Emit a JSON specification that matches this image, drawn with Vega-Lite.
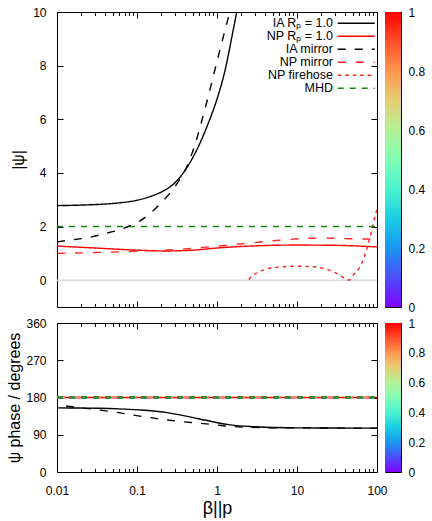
{
  "$schema": "https://vega.github.io/schema/vega-lite/v6.json",
  "padding": {"left": 6, "top": 5, "right": 0, "bottom": 0},
  "config": {
    "font": "Liberation Sans",
    "view": {"stroke": "#000", "strokeWidth": 1},
    "axis": {
      "domain": false, "grid": false, "tickColor": "#000", "tickWidth": 1,
      "labelFont": "Liberation Sans", "labelFontSize": 12, "labelColor": "#000",
      "titleFont": "Liberation Sans", "titleFontWeight": "normal", "titleColor": "#000"
    }
  },
  "datasets": {
    "psi": [
      {"b": 0.01, "v": 2.78, "s": "IA Rₚ = 1.0"}, {"b": 0.02, "v": 2.8, "s": "IA Rₚ = 1.0"}, {"b": 0.04, "v": 2.84, "s": "IA Rₚ = 1.0"},
      {"b": 0.063, "v": 2.89, "s": "IA Rₚ = 1.0"}, {"b": 0.1, "v": 2.98, "s": "IA Rₚ = 1.0"}, {"b": 0.16, "v": 3.16, "s": "IA Rₚ = 1.0"},
      {"b": 0.23, "v": 3.38, "s": "IA Rₚ = 1.0"}, {"b": 0.3, "v": 3.64, "s": "IA Rₚ = 1.0"}, {"b": 0.4, "v": 4.1, "s": "IA Rₚ = 1.0"},
      {"b": 0.5, "v": 4.58, "s": "IA Rₚ = 1.0"}, {"b": 0.6, "v": 5.05, "s": "IA Rₚ = 1.0"}, {"b": 0.72, "v": 5.6, "s": "IA Rₚ = 1.0"},
      {"b": 0.85, "v": 6.15, "s": "IA Rₚ = 1.0"}, {"b": 1.0, "v": 6.75, "s": "IA Rₚ = 1.0"}, {"b": 1.16, "v": 7.4, "s": "IA Rₚ = 1.0"},
      {"b": 1.3, "v": 8.0, "s": "IA Rₚ = 1.0"}, {"b": 1.54, "v": 9.1, "s": "IA Rₚ = 1.0"}, {"b": 1.76, "v": 10.0, "s": "IA Rₚ = 1.0"},
      {"b": 2.0, "v": 11.1, "s": "IA Rₚ = 1.0"},
      {"b": 0.01, "v": 1.27, "s": "NP Rₚ = 1.0"}, {"b": 0.03, "v": 1.2, "s": "NP Rₚ = 1.0"}, {"b": 0.1, "v": 1.12, "s": "NP Rₚ = 1.0"},
      {"b": 0.23, "v": 1.09, "s": "NP Rₚ = 1.0"}, {"b": 0.5, "v": 1.12, "s": "NP Rₚ = 1.0"}, {"b": 1, "v": 1.2, "s": "NP Rₚ = 1.0"},
      {"b": 3, "v": 1.28, "s": "NP Rₚ = 1.0"}, {"b": 10, "v": 1.31, "s": "NP Rₚ = 1.0"}, {"b": 30, "v": 1.3, "s": "NP Rₚ = 1.0"},
      {"b": 100, "v": 1.24, "s": "NP Rₚ = 1.0"},
      {"b": 0.01, "v": 1.43, "s": "IA mirror"}, {"b": 0.015, "v": 1.5, "s": "IA mirror"}, {"b": 0.024, "v": 1.58, "s": "IA mirror"},
      {"b": 0.04, "v": 1.74, "s": "IA mirror"}, {"b": 0.063, "v": 1.9, "s": "IA mirror"}, {"b": 0.08, "v": 2.02, "s": "IA mirror"},
      {"b": 0.11, "v": 2.22, "s": "IA mirror"}, {"b": 0.15, "v": 2.52, "s": "IA mirror"}, {"b": 0.2, "v": 2.88, "s": "IA mirror"},
      {"b": 0.25, "v": 3.2, "s": "IA mirror"}, {"b": 0.3, "v": 3.5, "s": "IA mirror"}, {"b": 0.35, "v": 3.8, "s": "IA mirror"},
      {"b": 0.4, "v": 4.1, "s": "IA mirror"}, {"b": 0.47, "v": 4.6, "s": "IA mirror"}, {"b": 0.55, "v": 5.2, "s": "IA mirror"},
      {"b": 0.66, "v": 6.05, "s": "IA mirror"}, {"b": 0.8, "v": 7.0, "s": "IA mirror"}, {"b": 0.96, "v": 7.95, "s": "IA mirror"},
      {"b": 1.1, "v": 8.65, "s": "IA mirror"}, {"b": 1.28, "v": 9.4, "s": "IA mirror"}, {"b": 1.5, "v": 10.2, "s": "IA mirror"},
      {"b": 1.7, "v": 10.9, "s": "IA mirror"},
      {"b": 0.01, "v": 1.0, "s": "NP mirror"}, {"b": 0.03, "v": 1.03, "s": "NP mirror"}, {"b": 0.1, "v": 1.08, "s": "NP mirror"},
      {"b": 0.3, "v": 1.14, "s": "NP mirror"}, {"b": 0.8, "v": 1.24, "s": "NP mirror"}, {"b": 2.5, "v": 1.38, "s": "NP mirror"},
      {"b": 6.5, "v": 1.5, "s": "NP mirror"}, {"b": 19, "v": 1.57, "s": "NP mirror"}, {"b": 55, "v": 1.54, "s": "NP mirror"},
      {"b": 85, "v": 1.53, "s": "NP mirror"},
      {"b": 2.5, "v": 0.02, "s": "NP firehose"}, {"b": 2.7, "v": 0.15, "s": "NP firehose"}, {"b": 3.2, "v": 0.28, "s": "NP firehose"},
      {"b": 4.1, "v": 0.41, "s": "NP firehose"}, {"b": 6, "v": 0.49, "s": "NP firehose"}, {"b": 10.6, "v": 0.52, "s": "NP firehose"},
      {"b": 16, "v": 0.5, "s": "NP firehose"}, {"b": 23, "v": 0.41, "s": "NP firehose"}, {"b": 30, "v": 0.28, "s": "NP firehose"},
      {"b": 36, "v": 0.14, "s": "NP firehose"}, {"b": 41, "v": 0.05, "s": "NP firehose"}, {"b": 44.7, "v": 0.0, "s": "NP firehose"},
      {"b": 50, "v": 0.18, "s": "NP firehose"}, {"b": 60, "v": 0.45, "s": "NP firehose"}, {"b": 68, "v": 0.8, "s": "NP firehose"},
      {"b": 75, "v": 1.2, "s": "NP firehose"}, {"b": 85, "v": 1.8, "s": "NP firehose"}, {"b": 93, "v": 2.3, "s": "NP firehose"},
      {"b": 100, "v": 2.65, "s": "NP firehose"},
      {"b": 0.01, "v": 2, "s": "MHD"}, {"b": 100, "v": 2, "s": "MHD"}
    ],
    "zero": [{"b": 0.01, "v": 0}, {"b": 100, "v": 0}],
    "phase": [
      {"b": 0.01, "p": 155, "s": "IA R"}, {"b": 0.02, "p": 154.5, "s": "IA R"}, {"b": 0.0335, "p": 154, "s": "IA R"},
      {"b": 0.06, "p": 152.5, "s": "IA R"}, {"b": 0.106, "p": 150, "s": "IA R"}, {"b": 0.16, "p": 147.5, "s": "IA R"},
      {"b": 0.23, "p": 144, "s": "IA R"}, {"b": 0.33, "p": 138.5, "s": "IA R"}, {"b": 0.49, "p": 132, "s": "IA R"},
      {"b": 0.7, "p": 125.5, "s": "IA R"}, {"b": 0.98, "p": 119.5, "s": "IA R"}, {"b": 1.4, "p": 114.5, "s": "IA R"},
      {"b": 1.9, "p": 111.5, "s": "IA R"}, {"b": 2.8, "p": 109.5, "s": "IA R"}, {"b": 4.1, "p": 108, "s": "IA R"},
      {"b": 10.6, "p": 106.6, "s": "IA R"}, {"b": 30, "p": 106.2, "s": "IA R"}, {"b": 100, "p": 106, "s": "IA R"},
      {"b": 0.01, "p": 180, "s": "NP R"}, {"b": 100, "p": 180, "s": "NP R"},
      {"b": 0.013, "p": 159.5, "s": "IA mirror"}, {"b": 0.02, "p": 155, "s": "IA mirror"}, {"b": 0.0335, "p": 150, "s": "IA mirror"},
      {"b": 0.055, "p": 144, "s": "IA mirror"}, {"b": 0.087, "p": 138, "s": "IA mirror"}, {"b": 0.14, "p": 132, "s": "IA mirror"},
      {"b": 0.23, "p": 126, "s": "IA mirror"}, {"b": 0.37, "p": 121.5, "s": "IA mirror"}, {"b": 0.6, "p": 118, "s": "IA mirror"},
      {"b": 1.0, "p": 113.5, "s": "IA mirror"}, {"b": 1.5, "p": 110, "s": "IA mirror"}, {"b": 2.5, "p": 108, "s": "IA mirror"},
      {"b": 4.1, "p": 107, "s": "IA mirror"}, {"b": 10.6, "p": 106.6, "s": "IA mirror"}, {"b": 30, "p": 106.2, "s": "IA mirror"},
      {"b": 100, "p": 106, "s": "IA mirror"},
      {"b": 0.01, "p": 180, "s": "NP mirror"}, {"b": 100, "p": 180, "s": "NP mirror"},
      {"b": 0.01, "p": 180, "s": "MHD"}, {"b": 100, "p": 180, "s": "MHD"}
    ],
    "bar": [{"lo": 0, "hi": 1}]
  },
  "spacing": 2,
  "vconcat": [
    {
      "spacing": 8,
      "bounds": "flush",
      "resolve": {"scale": {"color": "independent", "strokeDash": "independent", "strokeWidth": "independent"}, "legend": {"color": "independent", "strokeDash": "independent", "strokeWidth": "independent"}},
      "hconcat": [
        {
          "width": 320, "height": 295,
          "resolve": {"axis": {"x": "independent", "y": "independent"}},
          "layer": [
            {
              "data": {"name": "zero"},
              "mark": {"type": "line", "color": "#d8d8d8", "strokeWidth": 1.5},
              "encoding": {
                "x": {"field": "b", "type": "quantitative", "scale": {"type": "log", "domain": [0.01, 100], "nice": false},
                  "axis": {"orient": "top", "title": null, "labels": false,
                    "values": [0.01,0.02,0.03,0.04,0.05,0.06,0.07,0.08,0.09,0.1,0.2,0.3,0.4,0.5,0.6,0.7,0.8,0.9,1,2,3,4,5,6,7,8,9,10,20,30,40,50,60,70,80,90,100],
                    "tickSize": {"condition": {"test": "abs(log(datum.value)/LN10 - round(log(datum.value)/LN10)) < 0.001", "value": -6}, "value": -3.5}}},
                "y": {"field": "v", "type": "quantitative", "scale": {"domain": [-1, 10], "nice": false},
                  "axis": {"orient": "right", "title": null, "labels": false, "values": [0, 2, 4, 6, 8, 10], "tickSize": -6}}
              }
            },
            {
              "data": {"name": "psi"},
              "mark": {"type": "line", "clip": true, "interpolate": "monotone"},
              "encoding": {
                "x": {"field": "b", "type": "quantitative", "scale": {"type": "log", "domain": [0.01, 100], "nice": false},
                  "axis": {"orient": "bottom", "title": null, "labels": false,
                    "values": [0.01,0.02,0.03,0.04,0.05,0.06,0.07,0.08,0.09,0.1,0.2,0.3,0.4,0.5,0.6,0.7,0.8,0.9,1,2,3,4,5,6,7,8,9,10,20,30,40,50,60,70,80,90,100],
                    "tickSize": {"condition": {"test": "abs(log(datum.value)/LN10 - round(log(datum.value)/LN10)) < 0.001", "value": -6}, "value": -3.5}}},
                "y": {"field": "v", "type": "quantitative", "scale": {"domain": [-1, 10], "nice": false},
                  "axis": {"orient": "left", "title": "|ψ|", "titleFontSize": 16, "titlePadding": 6, "values": [0, 2, 4, 6, 8, 10], "tickSize": -6, "labelPadding": 17}},
                "color": {"field": "s", "type": "nominal",
                  "scale": {"domain": ["IA Rₚ = 1.0", "NP Rₚ = 1.0", "IA mirror", "NP mirror", "NP firehose", "MHD"],
                    "range": ["#000000", "#ff0000", "#000000", "#ff2020", "#ff2020", "#1a801a"]},
                  "legend": {"title": null, "orient": "none", "legendX": 293, "legendY": 5, "padding": 0,
                    "symbolType": "M-3.7,0H3.7", "symbolSize": 100, "labelAlign": "right", "labelOffset": -29.5,
                    "labelFontSize": 12.5, "labelColor": "#000", "labelFont": "Liberation Sans", "rowPadding": 0}},
                "strokeDash": {"field": "s", "type": "nominal",
                  "scale": {"domain": ["IA Rₚ = 1.0", "NP Rₚ = 1.0", "IA mirror", "NP mirror", "NP firehose", "MHD"],
                    "range": [[1, 0], [1, 0], [8, 9], [8, 10], [3.5, 4], [6, 6]]},
                  "legend": {"title": null, "orient": "none", "legendX": 293, "legendY": 5, "padding": 0,
                    "symbolType": "M-3.7,0H3.7", "symbolSize": 100, "labelAlign": "right", "labelOffset": -29.5,
                    "labelFontSize": 12.5, "labelColor": "#000", "labelFont": "Liberation Sans", "rowPadding": 0}},
                "strokeWidth": {"field": "s", "type": "nominal",
                  "scale": {"domain": ["IA Rₚ = 1.0", "NP Rₚ = 1.0", "IA mirror", "NP mirror", "NP firehose", "MHD"],
                    "range": [1.4, 1.4, 1.3, 1.3, 1.3, 2.2]},
                  "legend": {"title": null, "orient": "none", "legendX": 293, "legendY": 5, "padding": 0,
                    "symbolType": "M-3.7,0H3.7", "symbolSize": 100, "labelAlign": "right", "labelOffset": -29.5,
                    "labelFontSize": 12.5, "labelColor": "#000", "labelFont": "Liberation Sans", "rowPadding": 0}}
              }
            }
          ]
        },
        {
          "width": 16, "height": 295,
          "data": {"name": "bar"},
          "resolve": {"axis": {"y": "independent"}},
          "layer": [
            {
              "mark": {"type": "rect", "fill": {"gradient": "linear", "x1": 0, "y1": 1, "x2": 0, "y2": 0,
                "stops": [{"offset": 0, "color": "#8000ff"}, {"offset": 0.1, "color": "#4d4ffc"}, {"offset": 0.2, "color": "#1a96f2"},
                  {"offset": 0.3, "color": "#1acee3"}, {"offset": 0.4, "color": "#4cf2ce"}, {"offset": 0.5, "color": "#80ffb4"},
                  {"offset": 0.6, "color": "#b3f296"}, {"offset": 0.7, "color": "#e6ce74"}, {"offset": 0.8, "color": "#ff964f"},
                  {"offset": 0.9, "color": "#ff4f28"}, {"offset": 1, "color": "#ff0000"}]}},
              "encoding": {
                "x": {"field": "lo", "type": "quantitative", "scale": {"domain": [0, 1], "nice": false}, "axis": null},
                "x2": {"field": "hi"},
                "y": {"field": "lo", "type": "quantitative", "scale": {"domain": [0, 1], "nice": false},
                  "axis": {"orient": "right", "title": null, "format": "~g", "values": [0, 0.2, 0.4, 0.6, 0.8, 1], "tickSize": -4, "labelPadding": 11}},
                "y2": {"field": "hi"}
              }
            },
            {
              "mark": {"type": "rect", "opacity": 0},
              "encoding": {
                "x": {"field": "lo", "type": "quantitative", "scale": {"domain": [0, 1], "nice": false}, "axis": null},
                "x2": {"field": "hi"},
                "y": {"field": "lo", "type": "quantitative", "scale": {"domain": [0, 1], "nice": false},
                  "axis": {"orient": "left", "title": null, "labels": false, "values": [0.2, 0.4, 0.6, 0.8], "tickSize": -4}},
                "y2": {"field": "hi"}
              }
            }
          ]
        }
      ]
    },
    {
      "spacing": 8,
      "bounds": "flush",
      "hconcat": [
        {
          "width": 320, "height": 149,
          "data": {"name": "phase"},
          "resolve": {"axis": {"x": "independent", "y": "independent"}},
          "layer": [
            {
              "transform": [{"filter": "datum.s == 'IA R'"}],
              "mark": {"type": "line", "color": "#000", "strokeWidth": 1.4, "interpolate": "monotone"},
              "encoding": {
                "x": {"field": "b", "type": "quantitative", "scale": {"type": "log", "domain": [0.01, 100], "nice": false},
                  "axis": {"orient": "bottom", "title": "β||p", "titleFontSize": 18, "titlePadding": 3, "format": "~g",
                    "labelExpr": "abs(log(datum.value)/LN10 - round(log(datum.value)/LN10)) < 0.001 ? datum.label : ''",
                    "labelPadding": 19, "labelFlush": false,
                    "values": [0.01,0.02,0.03,0.04,0.05,0.06,0.07,0.08,0.09,0.1,0.2,0.3,0.4,0.5,0.6,0.7,0.8,0.9,1,2,3,4,5,6,7,8,9,10,20,30,40,50,60,70,80,90,100],
                    "tickSize": {"condition": {"test": "abs(log(datum.value)/LN10 - round(log(datum.value)/LN10)) < 0.001", "value": -6}, "value": -3.5}}},
                "y": {"field": "p", "type": "quantitative", "scale": {"domain": [0, 360], "nice": false},
                  "axis": {"orient": "left", "title": "ψ phase / degrees", "titleFontSize": 16, "titlePadding": 3, "values": [0, 90, 180, 270, 360], "tickSize": -6, "labelPadding": 17}}
              }
            },
            {
              "transform": [{"filter": "datum.s == 'NP R'"}],
              "mark": {"type": "line", "color": "#ff0000", "strokeWidth": 1.4},
              "encoding": {
                "x": {"field": "b", "type": "quantitative", "scale": {"type": "log", "domain": [0.01, 100], "nice": false},
                  "axis": {"orient": "top", "title": null, "labels": false,
                    "values": [0.01,0.02,0.03,0.04,0.05,0.06,0.07,0.08,0.09,0.1,0.2,0.3,0.4,0.5,0.6,0.7,0.8,0.9,1,2,3,4,5,6,7,8,9,10,20,30,40,50,60,70,80,90,100],
                    "tickSize": {"condition": {"test": "abs(log(datum.value)/LN10 - round(log(datum.value)/LN10)) < 0.001", "value": -6}, "value": -3.5}}},
                "y": {"field": "p", "type": "quantitative", "scale": {"domain": [0, 360], "nice": false},
                  "axis": {"orient": "right", "title": null, "labels": false, "values": [0, 90, 180, 270, 360], "tickSize": -6}}
              }
            },
            {
              "transform": [{"filter": "datum.s == 'IA mirror'"}],
              "mark": {"type": "line", "color": "#000", "strokeWidth": 1.3, "strokeDash": [8, 9], "interpolate": "monotone"},
              "encoding": {
                "x": {"field": "b", "type": "quantitative", "axis": null},
                "y": {"field": "p", "type": "quantitative", "axis": null}
              }
            },
            {
              "transform": [{"filter": "datum.s == 'NP mirror'"}],
              "mark": {"type": "line", "color": "#ff8080", "strokeWidth": 3, "strokeDash": [8, 10]},
              "encoding": {
                "x": {"field": "b", "type": "quantitative", "axis": null},
                "y": {"field": "p", "type": "quantitative", "axis": null}
              }
            },
            {
              "transform": [{"filter": "datum.s == 'MHD'"}],
              "mark": {"type": "line", "color": "#3a8a3a", "strokeWidth": 3, "strokeDash": [6, 6]},
              "encoding": {
                "x": {"field": "b", "type": "quantitative", "axis": null},
                "y": {"field": "p", "type": "quantitative", "axis": null}
              }
            }
          ]
        },
        {
          "width": 16, "height": 149,
          "data": {"name": "bar"},
          "resolve": {"axis": {"y": "independent"}},
          "layer": [
            {
              "mark": {"type": "rect", "fill": {"gradient": "linear", "x1": 0, "y1": 1, "x2": 0, "y2": 0,
                "stops": [{"offset": 0, "color": "#8000ff"}, {"offset": 0.1, "color": "#4d4ffc"}, {"offset": 0.2, "color": "#1a96f2"},
                  {"offset": 0.3, "color": "#1acee3"}, {"offset": 0.4, "color": "#4cf2ce"}, {"offset": 0.5, "color": "#80ffb4"},
                  {"offset": 0.6, "color": "#b3f296"}, {"offset": 0.7, "color": "#e6ce74"}, {"offset": 0.8, "color": "#ff964f"},
                  {"offset": 0.9, "color": "#ff4f28"}, {"offset": 1, "color": "#ff0000"}]}},
              "encoding": {
                "x": {"field": "lo", "type": "quantitative", "scale": {"domain": [0, 1], "nice": false}, "axis": null},
                "x2": {"field": "hi"},
                "y": {"field": "lo", "type": "quantitative", "scale": {"domain": [0, 1], "nice": false},
                  "axis": {"orient": "right", "title": null, "format": "~g", "values": [0, 0.2, 0.4, 0.6, 0.8, 1], "tickSize": -4, "labelPadding": 11}},
                "y2": {"field": "hi"}
              }
            },
            {
              "mark": {"type": "rect", "opacity": 0},
              "encoding": {
                "x": {"field": "lo", "type": "quantitative", "scale": {"domain": [0, 1], "nice": false}, "axis": null},
                "x2": {"field": "hi"},
                "y": {"field": "lo", "type": "quantitative", "scale": {"domain": [0, 1], "nice": false},
                  "axis": {"orient": "left", "title": null, "labels": false, "values": [0.2, 0.4, 0.6, 0.8], "tickSize": -4}},
                "y2": {"field": "hi"}
              }
            }
          ]
        }
      ]
    }
  ]
}
